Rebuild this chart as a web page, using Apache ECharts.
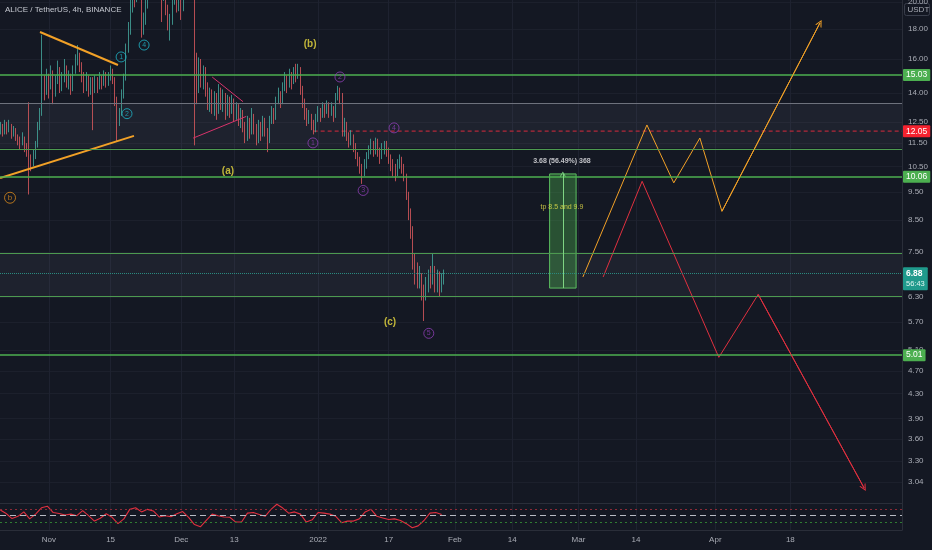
<!DOCTYPE html>
<html>
<head>
<meta charset="utf-8">
<script src="https://cdn.jsdelivr.net/npm/echarts@6/dist/echarts.min.js"></script>
<style>
  html, body { margin: 0; padding: 0; background: #141823; }
  #chart { width: 932px; height: 550px; }
</style>
</head>
<body>
<div id="chart"></div>
<script>
// 12h candles (open = previous close)
const candleStart = Date.UTC(2021, 9, 21);
const candleStep = 12 * 3600000;
const firstOpen = 12.0;
const closes = [
  12.2,12.0,12.4,12.1,12.3,11.9,12.1,11.8,11.6,11.5,
  11.7,11.3,11.1,10.8,10.6,10.9,11.4,12.2,12.9,14.6,
  14.2,14.9,14.4,15.2,14.0,14.7,15.4,14.3,14.8,15.5,
  14.6,15.0,14.2,15.3,15.9,16.2,15.6,15.0,14.3,14.9,
  14.1,14.6,14.2,14.7,14.3,14.9,14.5,15.1,14.6,14.9,
  15.2,14.8,13.6,12.5,12.9,13.9,14.8,16.6,17.9,19.5,
  21.0,20.3,22.5,21.5,18.2,18.6,19.8,21.5,23.0,22.0,
  24.0,23.0,21.0,20.5,21.8,19.5,18.4,18.6,20.1,21.5,
  19.6,20.8,19.4,21.5,22.8,23.5,22.0,21.0,15.6,14.2,
  15.8,14.6,15.4,14.2,13.5,14.0,13.2,13.8,13.0,14.2,
  13.4,13.9,12.9,13.6,13.1,13.7,12.8,13.3,12.6,13.0,
  12.3,11.8,12.6,12.0,12.8,12.2,11.7,12.4,11.9,12.6,
  12.1,11.6,12.6,13.1,12.7,13.6,14.0,13.5,14.3,14.9,
  14.4,15.1,14.6,15.3,15.0,15.4,14.2,13.5,13.0,12.6,
  12.8,12.4,12.1,12.7,13.1,12.8,13.3,13.0,13.4,12.9,
  13.3,12.8,13.8,14.2,13.9,12.0,12.4,11.9,11.6,11.8,
  11.3,11.0,10.7,10.5,10.2,10.6,10.9,11.2,11.5,11.1,
  11.6,11.2,10.9,11.3,11.5,11.2,10.9,10.6,10.4,10.2,
  10.6,10.9,10.5,10.1,9.4,8.7,8.2,7.3,7.0,6.7,
  6.9,6.4,6.3,6.6,6.9,6.8,7.0,6.6,6.9,6.5,
  6.8,6.88
];
const highs = [
  12.5,12.4,12.6,12.5,12.6,12.4,12.3,12.2,11.9,11.8,
  12.0,11.8,11.5,13.5,11.0,11.2,11.6,12.5,13.2,17.6,
  15.0,15.4,15.1,15.6,15.3,15.0,15.9,15.5,15.2,16.0,
  15.6,15.3,15.1,15.6,16.3,16.9,16.4,15.8,15.2,15.2,
  15.0,14.9,14.9,15.0,14.9,15.2,15.0,15.3,15.2,15.2,
  15.6,15.4,14.9,13.8,13.2,14.2,15.1,17.0,18.5,20.4,
  22.0,21.6,23.0,23.0,21.8,19.2,20.5,22.0,23.8,23.5,
  25.0,24.6,23.4,21.6,22.4,22.0,19.8,19.1,20.6,22.0,
  21.7,21.2,21.0,22.0,23.4,24.2,23.6,22.4,21.2,16.4,
  16.1,16.0,15.6,15.5,14.6,14.3,14.2,14.1,14.0,14.5,
  14.3,14.2,14.0,13.9,13.8,13.9,13.7,13.5,13.4,13.2,
  13.1,12.5,12.8,12.7,13.2,12.9,12.4,12.6,12.5,12.8,
  12.7,12.2,12.8,13.3,13.2,13.8,14.3,14.1,14.6,15.2,
  15.0,15.4,15.2,15.5,15.7,15.7,15.5,14.4,13.7,13.2,
  13.1,12.9,12.6,12.9,13.3,13.2,13.5,13.4,13.6,13.5,
  13.5,13.3,14.0,14.4,14.3,14.0,12.7,12.5,12.0,12.1,
  11.9,11.5,11.1,10.9,10.6,10.8,11.1,11.4,11.7,11.6,
  11.75,11.7,11.3,11.5,11.6,11.6,11.3,11.0,10.8,10.6,
  10.8,11.0,10.9,10.6,10.2,9.5,8.9,8.3,7.45,7.2,
  7.1,6.9,6.6,6.8,7.0,7.1,7.45,7.1,7.0,6.95,
  6.9,7.0
];
const lows = [
  11.9,11.8,11.9,11.9,12.0,11.7,11.8,11.6,11.4,11.2,
  11.4,11.1,10.9,9.4,10.3,10.5,10.8,11.3,12.1,12.8,
  13.6,13.9,13.7,14.2,13.4,13.8,14.5,14.0,14.1,14.6,
  14.3,14.2,13.9,14.1,15.1,15.6,15.2,14.6,14.0,14.1,
  13.8,13.9,12.1,14.0,14.0,14.2,14.2,14.4,14.3,14.4,
  14.7,14.5,13.3,11.6,12.3,12.8,13.7,14.7,16.4,17.6,
  19.2,19.6,20.0,20.6,17.4,17.6,18.3,19.5,21.2,21.0,
  21.8,22.0,20.4,18.5,20.1,19.0,17.9,17.2,18.3,19.8,
  19.2,19.3,18.65,19.3,21.2,22.4,21.3,20.6,11.4,13.4,
  14.0,14.3,14.2,13.8,13.1,13.0,12.9,12.8,12.6,12.9,
  13.1,13.0,12.6,12.8,12.7,12.9,12.5,12.6,12.3,12.2,
  12.0,11.5,11.6,11.7,11.9,11.9,11.4,11.5,11.6,11.8,
  11.8,11.1,11.5,12.4,12.4,12.6,13.4,13.2,13.4,14.1,
  14.0,14.3,14.2,14.5,14.6,14.8,13.9,13.2,12.6,12.3,
  12.4,12.1,11.9,12.0,12.5,12.5,12.7,12.7,12.9,12.7,
  12.8,12.5,12.7,13.6,13.4,11.8,11.8,11.6,11.3,11.4,
  11.1,10.8,10.5,10.2,9.8,10.1,10.4,10.8,11.0,10.9,
  11.0,10.9,10.6,10.8,11.0,10.9,10.6,10.3,10.1,9.9,
  10.1,10.4,10.2,9.9,9.2,8.5,7.9,7.0,6.6,6.5,
  6.5,6.2,5.72,6.2,6.4,6.5,6.6,6.4,6.4,6.3,
  6.4,6.6
];

// oscillator pane, one reading every 32h
const rsiStart = Date.UTC(2021, 9, 21);
const rsiStep = 32 * 3600000;
const rsiValues = [
  68,57,41,48,62,40,55,75,80,60,57,52,55,50,66,50,33,42,56,45,
  25,40,70,75,62,70,65,46,50,47,56,63,45,22,15,35,55,50,46,45,
  30,30,58,60,54,48,70,86,74,58,62,55,30,37,60,58,55,48,28,33,
  33,40,62,70,48,43,38,40,35,25,12,18,35,58,60,54
];
const rsiLevels = [70, 50, 30];

// axes
const priceTicks = [20, 18, 16, 14, 12.5, 11.5, 10.5, 9.5, 8.5, 7.5, 6.3, 5.7, 5.1, 4.7, 4.3, 3.9, 3.6, 3.3, 3.04];
const dateTicks = ['2021-11-01', '2021-11-15', '2021-12-01', '2021-12-13', '2022-01-01', '2022-01-17',
  '2022-02-01', '2022-02-14', '2022-03-01', '2022-03-14', '2022-04-01', '2022-04-18'];
const dateTickLabels = ['Nov', '15', 'Dec', '13', '2022', '17', 'Feb', '14', 'Mar', '14', 'Apr', '18'];
const dateRange = ['2021-10-20T22:30Z', '2022-05-13T07:00Z'];
const priceRange = [2.80, 20.17];

// drawn levels
const taggedLevels = [15.03, 10.06, 5.01];
const plainLevels = [11.28, 7.47, 6.27];
const greyLevel = 13.41;
const zones = [[11.28, 13.41], [6.27, 7.47]];
const lastPrice = 6.88;
const lastCountdown = '56:43';
const redLevel = 12.05;
const redLevelFrom = '2021-12-31';

// range measurement box
const boxDates = ['2022-02-22T11:00Z', '2022-02-28T11:00Z'];
const boxPrices = [6.51, 10.19];
const boxTexts = ['3.68 (56.49%) 368', 'tp 8.5 and 9.9'];
const boxTextDates = ['2022-02-25T06:00Z', '2022-02-25T06:00Z'];
const boxTextPrices = [10.72, 8.95];

// projected paths
const orangeDates = ['2022-03-02T00:00Z', '2022-03-16T12:00Z', '2022-03-22T14:00Z', '2022-03-28T12:00Z', '2022-04-02T12:00Z', '2022-04-24T17:00Z'];
const orangePrices = [6.80, 12.35, 9.84, 11.73, 8.80, 18.43];
const redDates = ['2022-03-06T14:00Z', '2022-03-15T10:00Z', '2022-04-01T19:00Z', '2022-04-10T17:00Z', '2022-05-04T17:00Z'];
const redPrices = [6.80, 9.90, 4.96, 6.35, 2.97];

// trend lines
const orangeTriUpper = [['2021-10-30T00:00Z', 17.79], ['2021-11-16T16:00Z', 15.63]];
const orangeTriLower = [['2021-10-20T23:00Z', 10.03], ['2021-11-20T07:00Z', 11.83]];
const pinkTriUpper = [['2021-12-08T00:00Z', 14.91], ['2021-12-15T00:00Z', 13.53]];
const pinkTriLower = [['2021-12-03T17:00Z', 11.73], ['2021-12-15T17:00Z', 12.77]];

// wave labels
const waveTexts = ['(b)', '(a)', '(c)'];
const waveDates = ['2021-12-30T05:00Z', '2021-12-11T14:00Z', '2022-01-17T07:00Z'];
const wavePrices = [16.97, 10.30, 5.70];
const tealWaves = ['1', '2', '4'];
const tealDates = ['2021-11-17T09:00Z', '2021-11-18T17:00Z', '2021-11-22T14:00Z'];
const tealPrices = [16.13, 12.91, 16.90];
const purpleWaves = ['2', '1', '4', '3', '5'];
const purpleDates = ['2022-01-05T23:00Z', '2021-12-30T20:00Z', '2022-01-18T05:00Z', '2022-01-11T05:00Z', '2022-01-26T02:00Z'];
const purplePrices = [14.91, 11.51, 12.21, 9.55, 5.45];
const orangeWaves = ['b'];
const orangeWaveDates = ['2021-10-23T05:00Z'];
const orangeWavePrices = [9.28];

const FONT = '"Liberation Sans", Arial, sans-serif';
const GREEN = '#4caf50';
const ORANGE = '#f2a127';
const RED = '#e0303f';
const ln = Math.log;
const ts = s => Date.parse(s);
const xMin = ts(dateRange[0]);
const xMax = ts(dateRange[1]);
const dateTickValues = dateTicks.map(ts);
const chevron = 'path://M0,10L5,0L10,10L8.4,10L5,3.2L1.6,10Z';

const candleData = closes.map((c, i) => {
  const o = i === 0 ? firstOpen : closes[i - 1];
  return [candleStart + i * candleStep, ln(o), ln(c), ln(lows[i]), ln(highs[i])];
});
const rsiData = rsiValues.map((v, i) => [rsiStart + i * rsiStep, v]);
const pathData = (dates, prices) => dates.map((d, i) => [ts(d), ln(prices[i])]);

function tagLabel(text, bg) {
  return {
    show: true, position: 'end', distance: 1, formatter: text,
    backgroundColor: bg, color: '#ffffff', fontFamily: FONT, fontSize: 8.5,
    padding: [2, 3, 1, 3], borderRadius: 1
  };
}

function pointSeries(texts, dates, prices, style) {
  return {
    type: 'scatter', xAxisIndex: 0, yAxisIndex: 0, z: 6, silent: true,
    symbol: 'circle', symbolSize: style.size,
    itemStyle: { color: 'rgba(0,0,0,0)', borderColor: style.ring || 'rgba(0,0,0,0)', borderWidth: 1 },
    label: {
      show: true, position: 'inside', formatter: '{b}', color: style.color,
      fontFamily: FONT, fontSize: style.fontSize, fontWeight: style.bold ? 'bold' : 'normal'
    },
    data: texts.map((t, i) => ({ name: t, value: [ts(dates[i]), ln(prices[i])] }))
  };
}

function trendSeries(pts, color, width) {
  return {
    type: 'line', xAxisIndex: 0, yAxisIndex: 0, z: 4, silent: true, symbol: 'none',
    lineStyle: { color: color, width: width },
    data: pts.map(p => [ts(p[0]), ln(p[1])])
  };
}

function projection(dates, prices, color) {
  const d = pathData(dates, prices);
  const n = d.length;
  return {
    type: 'line', xAxisIndex: 0, yAxisIndex: 0, z: 4, silent: true, symbol: 'none',
    lineStyle: { color: color, width: 1 },
    data: d,
    markLine: {
      silent: true, symbol: ['none', chevron], symbolSize: [7, 7],
      lineStyle: { color: color, width: 1, type: 'solid' }, label: { show: false },
      data: [[{ coord: d[n - 2] }, { coord: d[n - 1] }]]
    }
  };
}

const levelLines = [];
taggedLevels.forEach(p => levelLines.push({
  yAxis: ln(p), lineStyle: { color: GREEN, width: 1.5, type: 'solid' }, label: tagLabel(p.toFixed(2), GREEN)
}));
plainLevels.forEach(p => levelLines.push({
  yAxis: ln(p), lineStyle: { color: '#4d9a50', width: 1.2, type: 'solid' }, label: { show: false }
}));
levelLines.push({ yAxis: ln(greyLevel), lineStyle: { color: '#6e727d', width: 1.2, type: 'solid' }, label: { show: false } });
levelLines.push({
  yAxis: ln(lastPrice), lineStyle: { color: '#2a8a80', width: 1, type: 'dotted' },
  label: {
    show: true, position: 'end', distance: 1, offset: [0, 5],
    formatter: '{a|' + lastPrice.toFixed(2) + '}\n{b|' + lastCountdown + '}',
    backgroundColor: '#1f9a8c', padding: [2, 3, 1, 3], borderRadius: 1,
    rich: {
      a: { color: '#ffffff', fontFamily: FONT, fontSize: 8.5, fontWeight: 'bold', lineHeight: 10 },
      b: { color: '#dff5f1', fontFamily: FONT, fontSize: 7.5, lineHeight: 10 }
    }
  }
});

const boxMid = (ts(boxDates[0]) + ts(boxDates[1])) / 2;

const option = {
  backgroundColor: '#141823',
  animation: false,
  grid: [
    { left: 0, right: 30, top: 0, height: 503, outerBoundsMode: 'none' },
    { left: 0, right: 30, top: 503, height: 27, outerBoundsMode: 'none' }
  ],
  xAxis: [
    {
      type: 'value', gridIndex: 0, min: xMin, max: xMax, position: 'bottom',
      axisLine: { show: true, lineStyle: { color: '#2a2e39', width: 1 } },
      axisTick: { show: false, customValues: dateTickValues },
      axisLabel: { show: false, customValues: dateTickValues },
      splitLine: { show: true, lineStyle: { color: '#1e2230', width: 1 } }
    },
    {
      type: 'value', gridIndex: 1, min: xMin, max: xMax, position: 'bottom',
      axisLine: { show: true, lineStyle: { color: '#2a2e39', width: 1 } },
      axisTick: { show: false, customValues: dateTickValues },
      axisLabel: {
        show: true, customValues: dateTickValues, margin: 6,
        color: '#a9acb5', fontFamily: FONT, fontSize: 8,
        formatter: v => { const k = dateTickValues.indexOf(v); return k >= 0 ? dateTickLabels[k] : ''; }
      },
      splitLine: { show: true, lineStyle: { color: '#1e2230', width: 1 } }
    }
  ],
  yAxis: [
    {
      type: 'value', gridIndex: 0, position: 'right', min: ln(priceRange[0]), max: ln(priceRange[1]),
      axisLine: { show: true, lineStyle: { color: '#2a2e39', width: 1 } },
      axisTick: { show: false, customValues: priceTicks.map(ln) },
      axisLabel: {
        show: true, customValues: priceTicks.map(ln), margin: 6,
        color: '#a9acb5', fontFamily: FONT, fontSize: 8,
        formatter: v => Math.exp(v).toFixed(2)
      },
      splitLine: { show: true, lineStyle: { color: '#1c202c', width: 1 } }
    },
    {
      type: 'value', gridIndex: 1, position: 'right', min: 5, max: 90,
      axisLine: { show: true, lineStyle: { color: '#2a2e39', width: 1 } },
      axisTick: { show: false }, axisLabel: { show: false }, splitLine: { show: false }
    }
  ],
  graphic: [
    {
      type: 'text', left: 5, top: 6, z: 10,
      style: { text: 'ALICE / TetherUS, 4h, BINANCE', fill: '#c5c8d0', font: '8px ' + FONT }
    },
    {
      type: 'group', right: 2, top: 3, z: 10,
      children: [
        { type: 'rect', shape: { x: 0, y: 0, width: 25, height: 12, r: 2 },
          style: { fill: '#141823', stroke: '#3a3f4c', lineWidth: 1 } },
        { type: 'text', x: 3, y: 2, style: { text: 'USDT', fill: '#a9acb5', font: '8px ' + FONT } }
      ]
    }
  ],
  series: [
    {
      // zones, horizontal levels and the measured range box
      type: 'line', xAxisIndex: 0, yAxisIndex: 0, z: 1, silent: true, data: [],
      markArea: {
        silent: true,
        data: zones.map(z => [
          { yAxis: ln(z[1]), itemStyle: { color: 'rgba(128,132,148,0.10)' } },
          { yAxis: ln(z[0]) }
        ]).concat([[
          { coord: [ts(boxDates[0]), ln(boxPrices[1])],
            itemStyle: { color: 'rgba(76,175,80,0.38)', borderColor: '#5cbf60', borderWidth: 1 } },
          { coord: [ts(boxDates[1]), ln(boxPrices[0])] }
        ]])
      },
      markLine: {
        silent: true, symbol: 'none', data: levelLines
      }
    },
    {
      // red dashed level from late December, tagged at the axis
      type: 'line', xAxisIndex: 0, yAxisIndex: 0, z: 2, silent: true, symbol: 'none',
      lineStyle: { color: '#b3283a', width: 1.2, type: [4, 3] },
      data: [[ts(redLevelFrom), ln(redLevel)], [xMax, ln(redLevel)]],
      endLabel: tagLabel(redLevel.toFixed(2), '#f4222f')
    },
    {
      type: 'candlestick', xAxisIndex: 0, yAxisIndex: 0, z: 3, silent: true, clip: true,
      barWidth: 1.2,
      dimensions: ['t', 'open', 'close', 'lowest', 'highest'],
      encode: { x: 0, y: [1, 2, 3, 4] },
      itemStyle: { color: '#45ab9f', color0: '#de5b5e', borderColor: '#45ab9f', borderColor0: '#de5b5e', borderWidth: 0.8 },
      data: candleData
    },
    {
      // midline of the range box with its arrow
      type: 'line', xAxisIndex: 0, yAxisIndex: 0, z: 4, silent: true, data: [],
      markLine: {
        silent: true, symbol: ['none', chevron], symbolSize: [6, 5],
        lineStyle: { color: '#7fd483', width: 1, type: 'solid' }, label: { show: false },
        data: [[{ coord: [boxMid, ln(boxPrices[0])] }, { coord: [boxMid, ln(boxPrices[1])] }]]
      }
    },
    trendSeries(orangeTriUpper, ORANGE, 2),
    trendSeries(orangeTriLower, ORANGE, 2),
    trendSeries(pinkTriUpper, '#d8336b', 1),
    trendSeries(pinkTriLower, '#d8336b', 1),
    projection(orangeDates, orangePrices, ORANGE),
    projection(redDates, redPrices, RED),
    pointSeries(waveTexts, waveDates, wavePrices, { size: 1, color: '#ebdc3f', fontSize: 10, bold: true }),
    pointSeries(tealWaves, tealDates, tealPrices, { size: 10, ring: '#1fb5c8', color: '#1fb5c8', fontSize: 7 }),
    pointSeries(purpleWaves, purpleDates, purplePrices, { size: 10, ring: '#8e3fb5', color: '#8e3fb5', fontSize: 7 }),
    pointSeries(orangeWaves, orangeWaveDates, orangeWavePrices, { size: 11, ring: '#d98a1c', color: '#d98a1c', fontSize: 8 }),
    pointSeries([boxTexts[0]], [boxTextDates[0]], [boxTextPrices[0]], { size: 1, color: '#e8e8ec', fontSize: 7, bold: true }),
    pointSeries([boxTexts[1]], [boxTextDates[1]], [boxTextPrices[1]], { size: 1, color: '#e6e04a', fontSize: 7 }),
    {
      type: 'line', xAxisIndex: 1, yAxisIndex: 1, z: 3, silent: true, symbol: 'none',
      lineStyle: { color: '#e0303f', width: 1.1 },
      data: rsiData,
      markLine: {
        silent: true, symbol: 'none', label: { show: false },
        data: [
          { yAxis: rsiLevels[0], lineStyle: { color: '#8e2a36', width: 1, type: [2, 3] } },
          { yAxis: rsiLevels[1], lineStyle: { color: '#b8bbc4', width: 1, type: [6, 4] } },
          { yAxis: rsiLevels[2], lineStyle: { color: '#2f7d33', width: 1, type: [2, 3] } }
        ]
      }
    }
  ]
};

const chart = echarts.init(document.getElementById('chart'), null, { renderer: 'canvas' });
chart.setOption(option);
</script>
</body>
</html>
